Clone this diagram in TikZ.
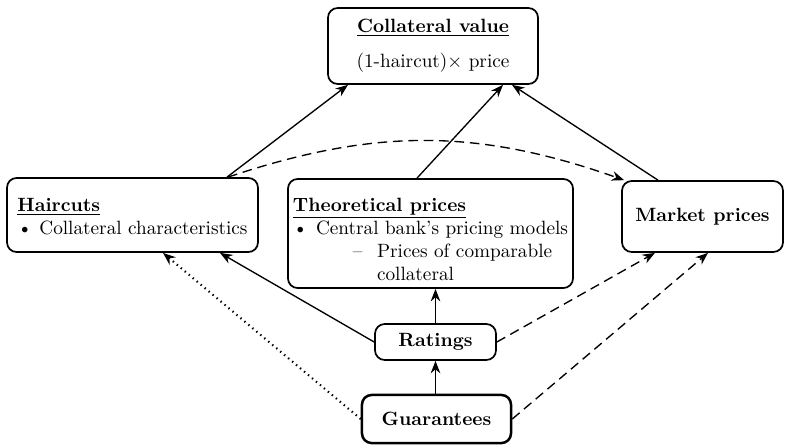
\documentclass[tikz,border=0pt]{standalone}
\usepackage{amsmath}
\usepackage{tikz}
\usetikzlibrary{arrows.meta,calc}
\newcommand{\hd}[1]{\underline{\textbf{#1}}}

\begin{document}
\begin{tikzpicture}[
  x=0.52pt, y=-0.52pt, >={Stealth[length=6.5pt,width=5pt]},
  box/.style={draw, line width=0.9pt, rounded corners=5pt, inner sep=0pt},
  link/.style={->, line width=0.7pt},
  dashline/.style={dash pattern=on 5pt off 3pt}]
\useasboundingbox (0,0) rectangle (788,444);
\node[box, minimum width=109.2pt, minimum height=39.5pt, align=center] (cv) at (433,46)
  {\hd{Collateral value}\\[6.2pt](1-haircut)$\times$ price};
\node[box, minimum width=130.5pt, minimum height=38.5pt, align=left] (hair) at (132.5,215)
  {\rule{0pt}{9pt}\hd{Haircuts}\\ \makebox[11.4pt][l]{\textbullet}Collateral characteristics};
\node[box, minimum width=148.2pt, minimum height=56.7pt, align=left] (theo) at (430.5,233.5)
  {\rule{0pt}{13pt}\hd{Theoretical prices}\\ \makebox[12pt][l]{\textbullet}Central bank's pricing models\\
   \hspace*{31.2pt}\makebox[12.5pt][l]{--}Prices of comparable\\ \hspace*{43.7pt}collateral};
\node[box, minimum width=83.7pt, minimum height=36.9pt] (mkt) at (702.5,216.5) {\textbf{Market prices}};
\node[box, minimum width=62.9pt, minimum height=18.7pt] (rat) at (435.5,342) {\textbf{Ratings}};
\node[box, line width=1.3pt, minimum width=77.5pt, minimum height=25pt] (guar) at (436.5,419) {\textbf{Guarantees}};
% upper arrows
\draw[link] ($(hair.north)+(94.5,0)$) -- ($(cv.south)+(-85,0)$);
\draw[link] ($(theo.north)+(-13.5,0)$) -- ($(cv.south)+(70,0)$);
\draw[link] ($(mkt.north)+(-44.5,0)$) -- ($(cv.south)+(79,0)$);
\draw[link, dashline] ($(hair.north)+(95.5,0)$) to[bend left=19] ($(mkt.north west)+(3,0)$);
% lower arrows
\draw[link] (rat.west) -- ($(hair.south)+(87.5,0)$);
\draw[link] (rat.north) -- (rat.north |- theo.south);
\draw[link, dashline] (rat.east) -- ($(mkt.south)+(-47.5,0)$);
\draw[link, dotted, line width=1.1pt] (guar.west) -- ($(hair.south)+(30.5,0)$);
\draw[link, dashline] (guar.east) -- ($(mkt.south)+(5.5,0)$);
\draw[link] (rat.south |- guar.north) -- (rat.south);
\end{tikzpicture}
\end{document}
